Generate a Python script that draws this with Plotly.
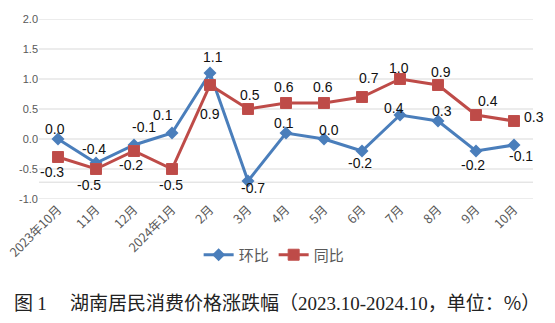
import plotly.graph_objects as go

categories = ["2023年10月", "11月", "12月", "2024年1月", "2月", "3月", "4月",
              "5月", "6月", "7月", "8月", "9月", "10月"]
huanbi = [0.0, -0.4, -0.1, 0.1, 1.1, -0.7, 0.1, 0.0, -0.2, 0.4, 0.3, -0.2, -0.1]
tongbi = [-0.3, -0.5, -0.2, -0.5, 0.9, 0.5, 0.6, 0.6, 0.7, 1.0, 0.9, 0.4, 0.3]
y_ticks = [-1.0, -0.5, 0.0, 0.5, 1.0, 1.5, 2.0]

# label pixel offsets (style)
hb_off = [(-3, -10), (-2, -14), (10, -18), (-9, -18), (3, -16), (5, 7), (-2, -10),
          (5, -9), (-2, 12), (-6, -7), (4, -10), (-3, 14), (7, 11)]
tb_off = [(-6, 15), (-7, 16), (-3, 14), (-1, 16), (0, 29), (2, -14), (-2, -16),
          (-1, -16), (7, -19), (-1, -11), (3, -13), (12, -14), (20, -4)]

BLUE = "#4A7EBB"
RED = "#BE4B48"

fig = go.Figure()
fig.add_trace(go.Scatter(
    x=categories, y=huanbi, name="环比", mode="lines+markers",
    line=dict(color=BLUE, width=3),
    marker=dict(symbol="diamond", size=10, color=BLUE),
))
fig.add_trace(go.Scatter(
    x=categories, y=tongbi, name="同比", mode="lines+markers",
    line=dict(color=RED, width=3),
    marker=dict(symbol="square", size=11, color=RED, line=dict(color="#C0504D", width=1)),
))

lab_font = dict(family="Liberation Sans, Arial", size=14, color="#111111")
annotations = []
for c, v, (dx, dy) in zip(categories, huanbi, hb_off):
    annotations.append(dict(x=c, y=v, text=f"{v:.1f}", showarrow=False,
                            xshift=dx, yshift=-dy, font=lab_font))
for c, v, (dx, dy) in zip(categories, tongbi, tb_off):
    annotations.append(dict(x=c, y=v, text=f"{v:.1f}", showarrow=False,
                            xshift=dx, yshift=-dy, font=lab_font))

serif = "font-family:Liberation Serif;font-size:19px"
title_text = (f"图 <span style='{serif}'>1</span>　 湖南居民消费价格涨跌幅（"
              f"<span style='{serif}'>2023.10-2024.10</span>，单位：%）")
annotations.append(dict(
    xref="paper", yref="paper", x=(12 - 39) / 494, y=-0.572, xanchor="left", yanchor="middle",
    showarrow=False, text=title_text,
    font=dict(family="Noto Sans CJK SC", size=19, color="#222222"),
))

shapes = []
for t in y_ticks:
    shapes.append(dict(type="line", xref="paper", yref="y", x0=0, x1=1, y0=t, y1=t,
                       line=dict(color="#D9D9D9", width=1), layer="below"))
shapes.append(dict(type="line", xref="paper", yref="y", x0=0, x1=1, y0=-0.72, y1=-0.72,
                   line=dict(color="#D9D9D9", width=1), layer="below"))

fig.update_layout(
    width=555, height=323,
    margin=dict(l=39, r=22, t=19, b=124),
    plot_bgcolor="white", paper_bgcolor="white",
    showlegend=True,
    legend=dict(orientation="h", x=0.476, y=-0.311, xanchor="center", yanchor="middle",
                font=dict(family="Noto Sans CJK SC", size=15, color="#595959"),
                itemwidth=30, tracegroupgap=0),
    annotations=annotations,
    shapes=shapes,
    xaxis=dict(type="category", tickangle=-45, showgrid=False, showline=False,
               ticks="", tickfont=dict(family="Noto Sans CJK SC", size=12.5, color="#595959"),
               range=[-0.5, len(categories) - 0.5], automargin=False),
    yaxis=dict(range=[-1.0, 2.0], tickvals=y_ticks, ticktext=[f"{t:.1f}" for t in y_ticks],
               showgrid=False, zeroline=False, showline=False, ticks="", automargin=False,
               tickfont=dict(family="Liberation Sans, Arial", size=11, color="#595959")),
)

fig.write_html("out.html")
